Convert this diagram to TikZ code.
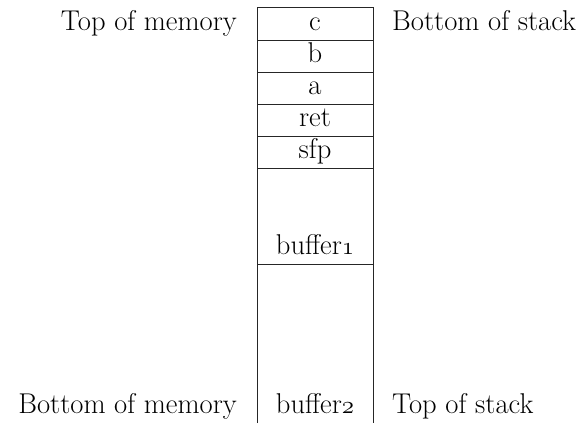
\documentclass[tikz,border=0pt]{standalone}
% old-style figures taken from the math italic font
\newcommand\osfig[1]{$\mathnormal{#1}$}
\begin{document}
\begin{tikzpicture}[x=1pt,y=-1pt,
  txt/.style={inner sep=0pt, font=\fontsize{28.6}{34}\selectfont},
  cell/.style={txt, anchor=base},
  leftlab/.style={txt, anchor=base east},
  rightlab/.style={txt, anchor=base west},
  frame/.style={line width=0.8pt, black!85}]
\useasboundingbox (0,0) rectangle (578,423);
% stack column: open at the bottom
\coordinate (bl) at (257,423);
\coordinate (tl) at (257,7.5);
\coordinate (tr) at (373,7.5);
\coordinate (br) at (373,423);
\draw[frame] (bl) -- (tl) -- (tr) -- (br);
\foreach \y in {40,72,104,136,168,264}
  \draw[frame] (257,\y) -- (373,\y);
% cell contents
\node[cell] (c)    at (315,30)  {c};
\node[cell] (b)    at (315,62)  {b};
\node[cell] (a)    at (315,94)  {a};
\node[cell] (ret)  at (315,126) {ret};
\node[cell] (sfp)  at (315,158) {sfp};
\node[cell] (buf1) at (315,254) {buffer\osfig{1}};
\node[cell] (buf2) at (315,413) {buffer\osfig{2}};
% side labels
\node[leftlab]  (topmem) at (237,30)  {Top of memory};
\node[rightlab] (botstk) at (392,30)  {Bottom of stack};
\node[leftlab]  (botmem) at (237,413) {Bottom of memory};
\node[rightlab] (topstk) at (392,413) {Top of stack};
\end{tikzpicture}
\end{document}
